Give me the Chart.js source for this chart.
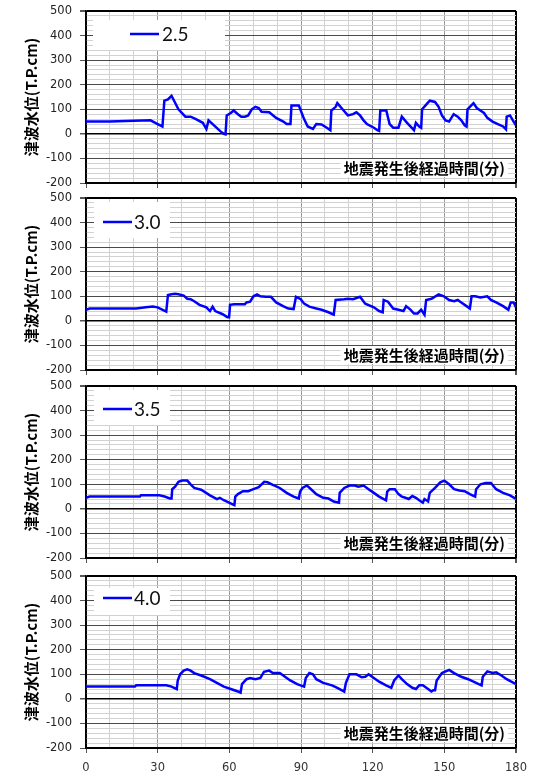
<!DOCTYPE html>
<html><head><meta charset="utf-8">
<script src="https://cdn.jsdelivr.net/npm/chart.js@4.4.1/dist/chart.umd.min.js"></script>
<style>
html,body{margin:0;padding:0;background:#fff;width:549px;height:779px;overflow:hidden;position:relative}
canvas.p{position:absolute;left:0}
</style></head><body>
<canvas id="c0" class="p" width="549" height="193" style="top:0px;width:549px;height:193px"></canvas>
<canvas id="c1" class="p" width="549" height="193" style="top:187px;width:549px;height:193px"></canvas>
<canvas id="c2" class="p" width="549" height="193" style="top:375px;width:549px;height:193px"></canvas>
<canvas id="c3" class="p" width="549" height="214" style="top:565px;width:549px;height:214px"></canvas>
<script>
// ---- data (minutes after earthquake, water level T.P.cm) ----
const seriesLabels = ['2.5', '3.0', '3.5', '4.0'];
const yTitle = '津波水位(T.P.cm)';
const xTitle = '地震発生後経過時間(分)';
const xTickLabels = [0, 30, 60, 90, 120, 150, 180];
const yTickLabels = [-200, -100, 0, 100, 200, 300, 400, 500];

const t25 = [0,10,20,27,30,32,32.8,34.3,35.8,38.7,41.6,43.8,46,48.9,50.4,51.3,56.3,57.7,58.4,58.9,60.6,61.8,63.6,65,66.5,67.9,69.4,70.9,72.3,73.5,76.7,79.6,82.6,84,85.6,86,89.1,91.3,92.8,95,96.4,98.6,100.8,102.3,102.7,104.5,105.2,107.4,109.6,111.8,113.2,114.7,116.2,117.6,120.5,122,122.7,123.2,125.7,127.1,128.6,130.8,132.2,134.4,136.3,137.3,138.1,139.5,140.3,140.7,142.5,143.9,146.1,147.6,149,150.5,152,153.9,155.6,157.1,158.5,159.3,159.7,160.7,162.2,163.6,165.1,166.6,168,170.2,172.4,174.6,175.8,176.1,177.5,179,180];
const v25 = [50,50,53,55,40,30,135,140,155,100,70,70,60,45,20,55,10,0,-2,75,85,95,80,70,70,75,100,110,105,90,88,65,50,40,40,115,115,60,30,20,40,38,25,15,95,110,125,100,75,80,88,75,55,40,25,15,12,95,95,40,25,25,70,45,25,15,45,30,25,100,120,135,130,110,75,55,50,80,70,55,35,30,100,110,125,105,95,85,65,50,40,30,18,70,75,50,35];

const t30 = [0,1.5,21,25,28,30,32.1,33.6,34.3,35.8,37.3,38.7,40.9,42.4,43.8,45.3,47.5,50.4,51.9,53,54.1,57,59.2,59.9,60.3,62,66.5,67.2,68.7,70.1,71.6,73,75.2,77.4,79.6,82.5,84.7,86.9,87.9,89.9,91.3,93.5,96.4,98.6,101.5,103.7,104.5,108.1,109.6,111.8,114.7,116.9,120.5,122.7,124.2,124.6,126.4,128.6,130.8,132.9,134,135.9,137.3,138.8,140.3,141.7,142.4,144.6,147.6,149.8,152,154.1,155.6,157.1,159.3,160.7,161.4,162.9,165.1,168,169.5,171.7,174.6,176.8,177.8,179,180];
const v30 = [45,50,50,55,58,55,45,38,105,108,110,108,103,90,88,80,65,55,40,58,40,28,15,15,65,68,68,75,78,100,108,100,98,98,75,60,50,48,98,88,70,58,50,45,35,25,85,88,90,88,98,70,55,40,35,85,78,50,45,40,60,45,30,30,45,25,85,90,108,100,85,80,85,75,60,50,100,100,95,100,85,75,60,45,75,75,55];

const t35 = [0,1.5,22.6,23,30.7,32.9,35.1,35.8,36.1,37.3,38.7,40.2,42.4,43.8,45.3,48.2,51.9,54.8,56,57.7,59.9,61.4,62.1,62.5,63.6,65.7,67.9,70.1,72.3,74.6,76,78.2,81.1,84,86.9,89.1,89.6,90.6,92.5,94.2,96.4,99.3,101.5,103.7,105.9,106.2,108.1,110.3,112.5,114,116.2,118.3,120.5,122.7,125.6,126.1,127.1,129.3,130.8,132.2,133.7,135.1,136.6,138.1,139.5,141,141.7,143.2,143.9,146.1,148.3,150,152,154.1,156.3,158.5,160.7,162.9,163.3,165.1,167.3,169.5,171.7,174.6,177.5,180];
const v35 = [45,50,50,55,55,50,42,42,80,90,110,115,115,100,85,78,55,40,45,35,25,18,15,50,60,72,72,80,88,110,108,98,85,65,50,42,70,85,95,80,60,45,42,30,25,65,85,95,95,90,95,80,65,50,35,70,80,80,60,50,45,40,52,45,35,25,40,30,65,85,108,115,100,80,75,72,60,50,80,100,105,105,80,65,55,40];

const t40 = [0,20.5,21,33.6,35.8,38,38.4,39.4,40.9,42.4,43.8,45.3,48.2,51.9,54.8,57.7,60.6,63.6,64.7,65.3,67.2,68.7,70.9,73,74.5,76.7,78.2,81.1,83.3,85.5,88.4,91.3,92,93.5,95,96.4,99.3,103,105.2,108.1,108.8,110.3,113.2,115.4,116.9,118.3,120.5,122.7,125.6,127.8,129,130.8,132.2,134.4,136.6,138.1,139.5,141,143.2,144.6,145.4,146.1,146.8,149,152,154.1,157.1,160,162.2,164.4,165.6,166.1,168,170.2,171.7,173.9,176.1,180];
const v40 = [50,50,55,55,50,40,75,100,115,120,115,105,95,80,65,50,40,30,25,60,80,85,80,85,110,115,105,105,90,75,60,50,85,105,100,80,65,55,45,30,65,100,100,88,90,100,85,70,55,45,75,95,80,60,45,40,55,55,40,30,35,35,75,105,118,105,90,80,70,60,55,90,112,105,108,95,80,60];

const seriesT = [t25, t30, t35, t40];
const seriesV = [v25, v30, v35, v40];

// ---- styling / layout ----
const legendBoxes = [
  {x0: 7, x1: 139, y0: 9, y1: 39, lx0: 44, lx1: 73, ly: 23, tx: 76},
  {x0: 8, x1: 84, y0: 4, y1: 40, lx0: 17, lx1: 46, ly: 24, tx: 48},
  {x0: 8, x1: 84, y0: 4, y1: 39, lx0: 17, lx1: 46, ly: 23, tx: 48},
  {x0: 8, x1: 84, y0: 12, y1: 39, lx0: 17, lx1: 46, ly: 22, tx: 48}
];

const overlay = {
  id: 'overlay',
  beforeDatasetsDraw(chart, args, opts) {
    const ctx = chart.ctx, a = chart.chartArea, L = opts.box;
    ctx.save();
    ctx.fillStyle = '#fff';
    ctx.fillRect(a.left + L.x0, a.top + L.y0, L.x1 - L.x0, L.y1 - L.y0);
    ctx.strokeStyle = '#0000ff'; ctx.lineWidth = 2.5;
    ctx.beginPath(); ctx.moveTo(a.left + L.lx0, a.top + L.ly); ctx.lineTo(a.left + L.lx1, a.top + L.ly); ctx.stroke();
    ctx.fillStyle = '#111'; ctx.font = '19px Lato'; ctx.textBaseline = 'middle'; ctx.textAlign = 'left';
    ctx.fillText(chart.data.datasets[0].label, a.left + L.tx, a.top + L.ly + 1);
    ctx.font = 'bold 15px "Noto Sans CJK JP"';
    const w = ctx.measureText(opts.xTitle).width;
    const xr = a.right - 11, yc = a.top + 157;
    ctx.fillStyle = '#fff'; ctx.fillRect(xr - w - 3, yc - 9, w + 6, 18);
    ctx.fillStyle = '#000'; ctx.textAlign = 'right';
    ctx.fillText(opts.xTitle, xr, yc);
    ctx.restore();
  }
};

function makeChart(i) {
  const last = i === 3;
  const pts = seriesT[i].map((t, k) => ({x: t, y: seriesV[i][k]}));
  return new Chart(document.getElementById('c' + i), {
    type: 'line',
    data: { datasets: [{ label: seriesLabels[i], data: pts, borderColor: '#0000ff', borderWidth: 2.5,
      pointRadius: 0, tension: 0, fill: false }] },
    plugins: [overlay],
    options: {
      responsive: false, maintainAspectRatio: false, animation: false,
      layout: { padding: { top: 11, right: 33, bottom: 0, left: 0 } },
      plugins: { legend: { display: false }, tooltip: { enabled: false },
        overlay: { box: legendBoxes[i], xTitle: xTitle } },
      scales: {
        x: {
          type: 'linear', min: 0, max: 180,
          afterFit: s => { s.height = last ? 31 : 10; },
          ticks: { stepSize: 10, autoSkip: false, maxRotation: 0, display: last, padding: 8,
            color: '#333', font: { family: 'DejaVu Sans', size: 11.5 },
            callback: v => xTickLabels.includes(v) ? String(v) : '' },
          grid: {
            tickLength: 5,
            color: c => { const v = c.tick.value; if (v === 0 || v === 180) return '#000'; return v % 30 === 0 ? '#9a9a9a' : '#d2d2d2'; },
            lineWidth: c => { const v = c.tick.value; return v === 180 ? 2 : 1; },
            tickColor: c => c.tick.value % 30 === 0 ? '#555' : 'rgba(0,0,0,0)'
          },
          border: { display: true, color: '#000', width: 1.5 }
        },
        y: {
          min: -200, max: 500,
          afterFit: s => { s.width = 86; },
          ticks: { stepSize: 20, autoSkip: false, padding: 8, color: '#222',
            font: { family: 'DejaVu Sans', size: 11.5, lineHeight: 0.3 },
            callback: v => yTickLabels.includes(v) ? String(v) : '' },
          grid: {
            tickLength: 6,
            color: c => { const v = c.tick.value; if (v === 0 || v === 500 || v === -200) return '#000'; return v % 100 === 0 ? '#4a4a4a' : '#d2d2d2'; },
            lineWidth: c => { const v = c.tick.value; if (v === 500) return 2; if (v === 0) return 1.5; return 1; },
            tickColor: c => c.tick.value % 100 === 0 ? '#555' : 'rgba(0,0,0,0)'
          },
          border: { display: true, color: '#000', width: 1.5 },
          title: { display: true, text: yTitle, color: '#000',
            font: { family: '"Noto Sans CJK JP"', size: 15, weight: 'bold' },
            padding: { top: 22, bottom: 0 } }
        }
      }
    }
  });
}
for (let i = 0; i < 4; i++) makeChart(i);
</script>
</body></html>
